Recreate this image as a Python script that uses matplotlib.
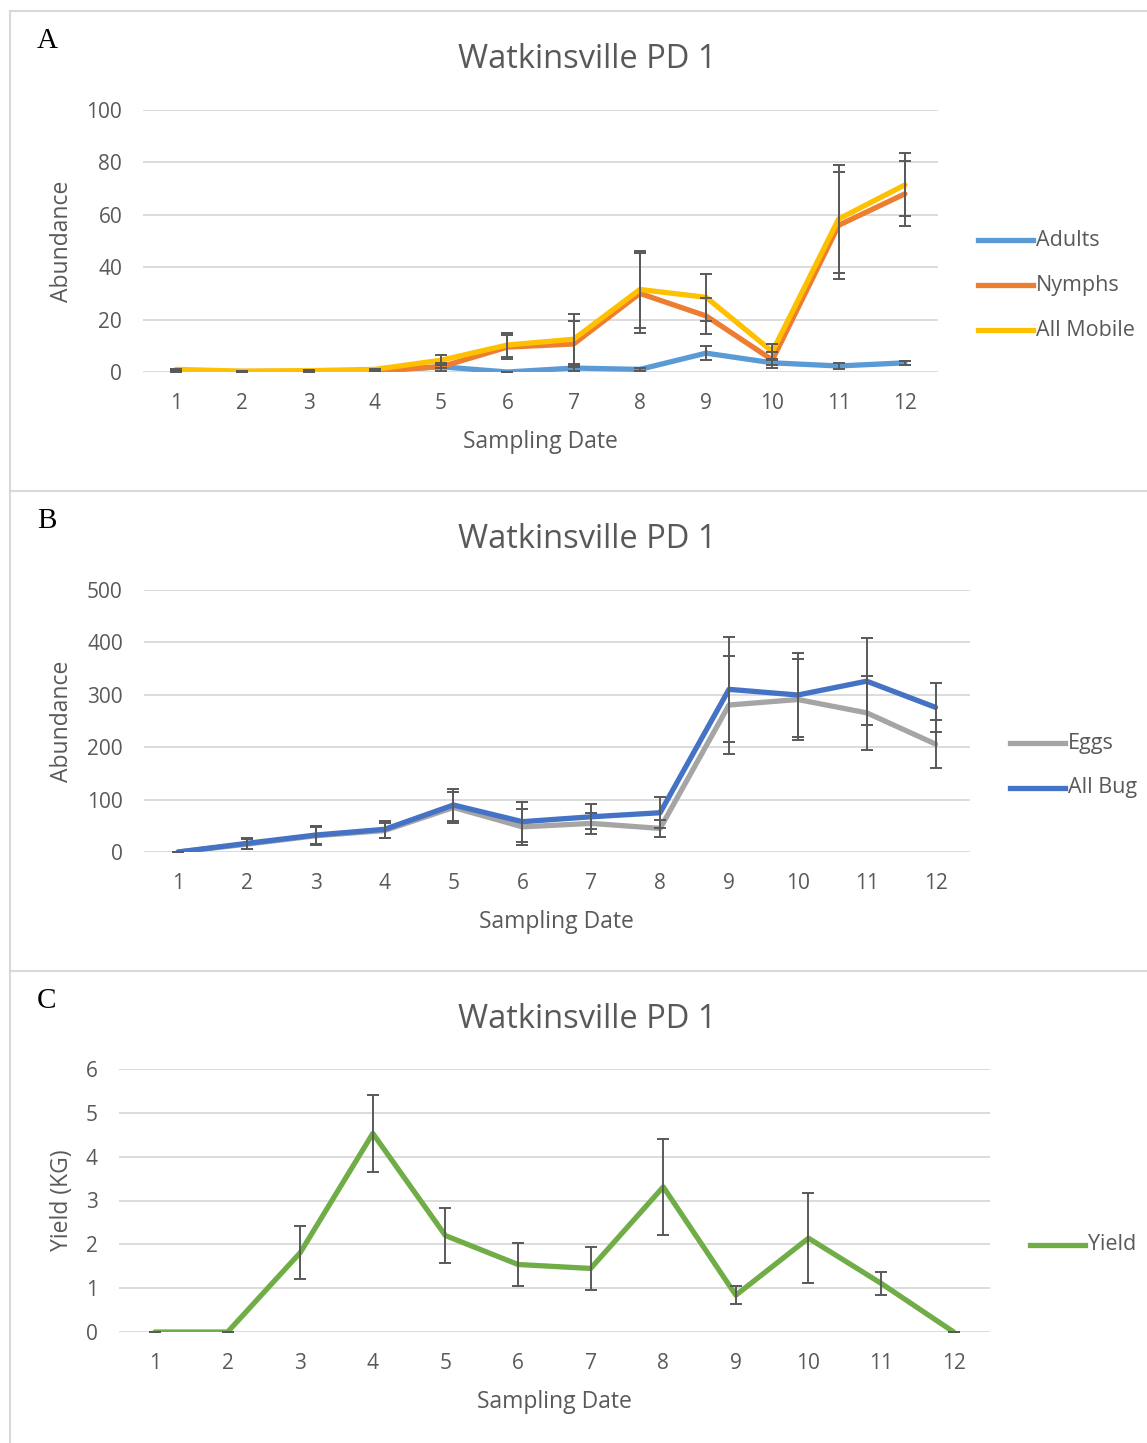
import matplotlib
matplotlib.use('Agg')
import matplotlib.pyplot as plt
from matplotlib.lines import Line2D
import numpy as np

# sampling dates
dates = np.arange(1, 13)

# panel A - mobile stages
adults = [0.5, 0, 0.2, 0.5, 2, 0, 1.5, 1, 7.2, 3.5, 2.3, 3.5]
adults_err = [0.3, 0, 0, 0.3, 0.5, 0, 1, 0.5, 2.7, 1, 1, 0.8]
nymphs = [0.3, 0.2, 0.3, 0.5, 2, 9.5, 10.7, 30, 21.4, 4.6, 56, 68]
nymphs_err = [0.3, 0, 0.2, 0.3, 1.5, 4.5, 8.8, 15.3, 7, 3, 20.4, 12.4]
mobile = [1, 0.3, 0.5, 1, 4.5, 10.3, 12.5, 31.5, 28.5, 7.8, 58.4, 71.4]
mobile_err = [0.3, 0, 0.2, 0.3, 2, 4.5, 9.6, 14.8, 9, 3, 20.6, 12]

# panel B - eggs and all bugs
eggs = [0, 15, 31, 41, 85, 48, 54.6, 45, 280.5, 291, 265.6, 206]
eggs_err = [0, 10, 17, 15, 30, 35, 20, 16, 93, 78, 71, 46]
allbug = [0, 16.5, 32.4, 43.3, 89.7, 57.9, 67.2, 74.9, 310.4, 299.6, 326, 276]
allbug_err = [0, 10, 17, 16, 30, 38, 24, 30, 100, 81, 83, 47]

# panel C - yield
yld = [0, 0, 1.81, 4.53, 2.2, 1.54, 1.45, 3.31, 0.84, 2.14, 1.11, 0]
yld_err = [0, 0, 0.6, 0.87, 0.62, 0.48, 0.5, 1.1, 0.21, 1.02, 0.27, 0]

W, H = 1147, 1443
fig = plt.figure(figsize=(W / 100, H / 100), dpi=100)
fig.patch.set_facecolor('white')

FONT = 'Open Sans'
txt = '#595959'
grid = '#d9d9d9'


def fx(x):
    return x / W


def fy(y):
    return 1 - y / H


def make_axes(left, right, top, bottom):
    ax = fig.add_axes([fx(left), fy(bottom), (right - left) / W, (bottom - top) / H])
    for s in ax.spines.values():
        s.set_visible(False)
    ax.tick_params(length=0, labelsize=15, labelcolor=txt)
    ax.tick_params(axis='y', pad=15)
    ax.tick_params(axis='x', pad=15)
    for lab in ax.get_xticklabels() + ax.get_yticklabels():
        lab.set_fontfamily(FONT)
    ax.set_xlim(0.5, 12.5)
    ax.set_xticks(dates)
    ax.yaxis.grid(True, color=grid, lw=1.3)
    ax.set_axisbelow(True)
    return ax


def draw_series(ax, y, err, color):
    ax.plot(dates, y, color=color, lw=3.8, solid_capstyle='round', solid_joinstyle='round', zorder=3)
    ax.errorbar(dates, y, yerr=err, fmt='none', ecolor='#595959', elinewidth=1.4,
                capsize=4.4, capthick=1.4, zorder=4)


def legend_rows(names, colors, x0, ys):
    for n, c, y in zip(names, colors, ys):
        fig.add_artist(Line2D([fx(x0), fx(x0 + 55)], [fy(y), fy(y)], color=c, lw=3.8,
                              transform=fig.transFigure))
        fig.text(fx(x0 + 58), fy(y), n, fontsize=15.5, color=txt, family=FONT, va='center', ha='left')


def labels(ax, title, tx, ty, ylab, yly, xlab, xlx, xly, letter, ly):
    fig.text(fx(tx), fy(ty), title, fontsize=23.5, color=txt, family=FONT, ha='center', va='center')
    fig.text(fx(62), fy(yly), ylab, fontsize=16.5, color=txt, family=FONT, ha='center', va='center',
             rotation=90)
    fig.text(fx(xlx), fy(xly), xlab, fontsize=16.5, color=txt, family=FONT, ha='center', va='center')
    fig.text(fx(37), fy(ly), letter, fontsize=21, color='black', family='Liberation Serif',
             ha='left', va='center')


# panel frames
for y in [11, 491, 971]:
    fig.add_artist(Line2D([fx(10), 1], [fy(y), fy(y)], color=grid, lw=1.5, transform=fig.transFigure))
fig.add_artist(Line2D([fx(10), fx(10)], [fy(11), 0], color=grid, lw=1.5, transform=fig.transFigure))

# A
axA = make_axes(143, 938, 110, 372)
axA.set_ylim(0, 100)
axA.set_yticks(np.arange(0, 101, 20))
draw_series(axA, adults, adults_err, '#5B9BD5')
draw_series(axA, nymphs, nymphs_err, '#ED7D31')
draw_series(axA, mobile, mobile_err, '#FFC000')
labels(axA, 'Watkinsville PD 1', 587, 59, 'Abundance', 241, 'Sampling Date', 540, 442, 'A', 41)
legend_rows(['Adults', 'Nymphs', 'All Mobile'], ['#5B9BD5', '#ED7D31', '#FFC000'], 978, [240, 285, 330])

# B
axB = make_axes(143.6, 970, 590, 852)
axB.set_ylim(0, 500)
axB.set_yticks(np.arange(0, 501, 100))
draw_series(axB, eggs, eggs_err, '#A5A5A5')
draw_series(axB, allbug, allbug_err, '#4472C4')
labels(axB, 'Watkinsville PD 1', 587, 539, 'Abundance', 721, 'Sampling Date', 556, 922, 'B', 521)
legend_rows(['Eggs', 'All Bug'], ['#A5A5A5', '#4472C4'], 1010, [743, 788])

# C
axC = make_axes(118.7, 990, 1069, 1332)
axC.set_ylim(0, 6)
axC.set_yticks(np.arange(0, 7, 1))
draw_series(axC, yld, yld_err, '#70AD47')
labels(axC, 'Watkinsville PD 1', 587, 1019, 'Yield (KG)', 1200, 'Sampling Date', 554, 1402, 'C', 1001)
legend_rows(['Yield'], ['#70AD47'], 1030, [1245])

fig.savefig('out.png', dpi=100, facecolor='white')
